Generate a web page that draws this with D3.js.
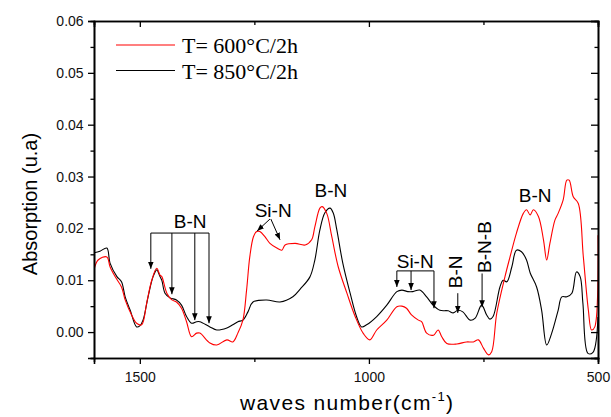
<!DOCTYPE html>
<html>
<head>
<meta charset="utf-8">
<script src="https://cdnjs.cloudflare.com/ajax/libs/d3/7.8.5/d3.min.js"></script>
<style>
    body { margin: 0; background: #fff; }
    svg { display: block; }
    .tick text { font-family: Arial, "Liberation Sans", sans-serif; }
    .ann { font-family: Arial, "Liberation Sans", sans-serif; font-size: 19px; }
</style>
</head>
<body>
<svg width="611" height="417"></svg>
<script>
// wavenumber (cm-1) and absorbance
var wave600 = [1600, 1591, 1572, 1565, 1554, 1540, 1532, 1518, 1507, 1496, 1485, 1474, 1463, 1456, 1452, 1441,
    1430, 1420, 1409, 1398, 1387, 1376, 1369, 1347, 1332, 1310, 1297, 1286, 1275, 1267, 1260, 1252, 1245, 1238,
    1227, 1216, 1201, 1190, 1183, 1161, 1139, 1125, 1118, 1107, 1102, 1092, 1081, 1067, 1048, 1030, 1012, 998,
    983, 961, 939, 928, 918, 907, 892, 885, 874, 859, 849, 841, 830, 808, 787, 772, 761, 750, 739, 732, 721, 703,
    692, 678, 663, 656, 648, 641, 630, 619, 612, 605, 594, 587, 576, 568, 563, 554, 543, 532, 521, 514, 507, 500];
var abs600 = [0.0120, 0.0139, 0.0145, 0.0126, 0.0107, 0.0087, 0.0062, 0.0033, 0.0017, 0.0014, 0.0056, 0.0100,
    0.0123, 0.0110, 0.0107, 0.0075, 0.0062, 0.0058, 0.0046, 0.0020, -0.0009, -0.0002, -0.0002, -0.0021, -0.0025,
    -0.0015, -0.0019, -0.0002, 0.0023, 0.0081, 0.0145, 0.0184, 0.0194, 0.0194, 0.0184, 0.0171, 0.0162, 0.0158,
    0.0168, 0.0171, 0.0168, 0.0178, 0.0203, 0.0239, 0.0242, 0.0229, 0.0184, 0.0126, 0.0075, 0.0030, -0.0003,
    -0.0015, 0.0004, 0.0023, 0.0049, 0.0050, 0.0046, 0.0033, 0.0023, 0.0020, -0.0002, -0.0006, 0.0004, -0.0009,
    -0.0022, -0.0023, -0.0019, -0.0019, -0.0015, -0.0031, -0.0044, -0.0038, 0.0036, 0.0107, 0.0145, 0.0191,
    0.0229, 0.0236, 0.0226, 0.0236, 0.0223, 0.0178, 0.0139, 0.0171, 0.0216, 0.0229, 0.0255, 0.0293, 0.0293,
    0.0261, 0.0248, 0.0145, 0.0042, 0.0004, 0.0010, 0.0187];

var wave850 = [1600, 1587, 1572, 1565, 1550, 1540, 1532, 1521, 1507, 1500, 1493, 1482, 1471, 1463, 1456, 1452,
    1445, 1434, 1420, 1409, 1398, 1387, 1376, 1369, 1347, 1332, 1310, 1297, 1286, 1275, 1264, 1253, 1223, 1194,
    1166, 1150, 1129, 1118, 1107, 1096, 1085, 1078, 1070, 1057, 1041, 1027, 1016, 1005, 983, 961, 939, 928, 915,
    904, 889, 874, 860, 845, 827, 816, 806, 795, 779, 768, 754, 743, 736, 729, 714, 707, 699, 688, 678, 667, 656,
    648, 634, 623, 612, 601, 587, 579, 568, 557, 547, 539, 533, 522, 511, 500];
var abs850 = [0.0153, 0.0156, 0.0162, 0.0133, 0.0107, 0.0097, 0.0068, 0.0042, 0.0010, 0.0012, 0.0023, 0.0068,
    0.0107, 0.0120, 0.0107, 0.0100, 0.0075, 0.0066, 0.0062, 0.0052, 0.0030, 0.0017, 0.0020, 0.0020, 0.0010,
    0.0004, 0.0008, 0.0014, 0.0020, 0.0023, 0.0039, 0.0058, 0.0062, 0.0058, 0.0068, 0.0083, 0.0106, 0.0139,
    0.0197, 0.0230, 0.0239, 0.0230, 0.0197, 0.0133, 0.0075, 0.0030, 0.0010, 0.0014, 0.0030, 0.0052, 0.0078,
    0.0081, 0.0078, 0.0078, 0.0081, 0.0068, 0.0052, 0.0042, 0.0041, 0.0037, 0.0042, 0.0039, 0.0023, 0.0027,
    0.0052, 0.0033, 0.0025, 0.0030, 0.0087, 0.0100, 0.0097, 0.0126, 0.0158, 0.0155, 0.0139, 0.0114, 0.0087,
    0.0042, -0.0025, -0.0002, 0.0042, 0.0068, 0.0068, 0.0075, 0.0116, 0.0107, 0.0056, -0.0041, -0.0039, 0.0029];

var seriesNames = ["T= 600\u00B0C/2h", "T= 850\u00B0C/2h"];
var xTicks = [1500, 1000, 500];
var xMinor = [1250, 750];
var yTicks = [0.00, 0.01, 0.02, 0.03, 0.04, 0.05, 0.06];
var yMinor = [-0.005, 0.005, 0.015, 0.025, 0.035, 0.045, 0.055];

var svg = d3.select("svg"),
    margin = {top: 21, right: 13, bottom: 59, left: 94},
    width = +svg.attr("width") - margin.left - margin.right,
    height = +svg.attr("height") - margin.top - margin.bottom;

var x = d3.scaleLinear().domain([1600, 500]).range([0, width]),
    y = d3.scaleLinear().domain([-0.005, 0.06]).range([height, 0]);

var g = svg.append("g")
    .attr("transform", "translate(" + margin.left + "," + margin.top + ")");

g.append("clipPath").attr("id", "clip")
    .append("rect").attr("width", width).attr("height", height);

var lineGen = d3.line()
    .x(function (d) { return x(d[0]); })
    .y(function (d) { return y(d[1]); })
    .curve(d3.curveCatmullRom.alpha(0.5));

var series = [
    {name: seriesNames[0], color: "#ff0000", pts: d3.zip(wave600, abs600)},
    {name: seriesNames[1], color: "#000000", pts: d3.zip(wave850, abs850)}
];

// draw black first so red sits on top like the picture
g.selectAll(".spec")
    .data(series.slice().reverse())
    .enter().append("path")
    .attr("class", "spec")
    .attr("clip-path", "url(#clip)")
    .attr("fill", "none")
    .attr("stroke", function (d) { return d.color; })
    .attr("stroke-width", 1.1)
    .attr("d", function (d) { return lineGen(d.pts); });

// axes
function fmtY(d) { return d3.format(".2f")(d); }

var gx = g.append("g")
    .attr("transform", "translate(0," + height + ")")
    .call(d3.axisBottom(x).tickValues(xTicks).tickSize(6).tickFormat(d3.format("d")));
gx.append("g").call(d3.axisBottom(x).tickValues(xMinor).tickSize(4).tickFormat(""));

var gy = g.append("g")
    .call(d3.axisLeft(y).tickValues(yTicks).tickSize(6).tickFormat(fmtY));
gy.append("g").call(d3.axisLeft(y).tickValues(yMinor).tickSize(3.5).tickFormat(""));

var gt = g.append("g")
    .call(d3.axisTop(x).tickValues(xTicks).tickSize(-6).tickFormat(""));
gt.append("g").call(d3.axisTop(x).tickValues(xMinor).tickSize(-4).tickFormat(""));

var gr = g.append("g")
    .attr("transform", "translate(" + width + ",0)")
    .call(d3.axisRight(y).tickValues(yTicks).tickSize(-7).tickFormat(""));
gr.append("g").call(d3.axisRight(y).tickValues(yMinor).tickSize(-3.5).tickFormat(""));

g.selectAll(".domain").attr("stroke", "#000").attr("stroke-width", 1.6);
g.selectAll(".tick line").attr("stroke", "#000").attr("stroke-width", 1.3);
g.selectAll(".tick text").attr("font-size", 14).attr("fill", "#111");
gx.selectAll(".tick text").attr("dy", "1.05em");
gy.selectAll(".tick text").attr("dx", "-0.1em");

// axis labels
svg.append("text")
    .attr("transform", "translate(37," + 204 + ") rotate(-90)")
    .attr("text-anchor", "middle")
    .attr("font-family", "Arial, 'Liberation Sans', sans-serif")
    .attr("font-size", 20)
    .text("Absorption (u.a)");

var xl = svg.append("text")
    .attr("x", 240)
    .attr("y", 410)
    .attr("font-family", "Arial, 'Liberation Sans', sans-serif")
    .attr("font-size", 21)
    .attr("textLength", 213)
    .attr("lengthAdjust", "spacing");
xl.append("tspan").text("waves number(cm");
xl.append("tspan").attr("font-size", 13).attr("dy", -9).text("-1");
xl.append("tspan").attr("dy", 9).text(")");

// legend
var legend = g.selectAll(".leg")
    .data(series)
    .enter().append("g")
    .attr("class", "leg")
    .attr("transform", function (d, i) { return "translate(22," + (24 + i * 25.5) + ")"; });
legend.append("line")
    .attr("x1", 0).attr("x2", 59)
    .attr("stroke", function (d) { return d.color; })
    .attr("stroke-width", 1.1);
legend.append("text")
    .attr("x", 66).attr("y", 8)
    .attr("font-family", "'Liberation Serif', 'Times New Roman', serif")
    .attr("font-size", 22)
    .text(function (d) { return d.name; });

// annotations (wavenumber, absorbance)
var defs = svg.append("defs");
defs.append("marker")
    .attr("id", "arr")
    .attr("viewBox", "0 0 10 10")
    .attr("refX", 10).attr("refY", 5)
    .attr("markerWidth", 7).attr("markerHeight", 7)
    .attr("orient", "auto")
    .append("path").attr("d", "M0,1 L10,5 L0,9 Z").attr("fill", "#000");

function arrow(x1, y1, x2, y2) {
    g.append("line")
        .attr("x1", x(x1)).attr("y1", y(y1))
        .attr("x2", x(x2)).attr("y2", y(y2))
        .attr("stroke", "#000").attr("stroke-width", 1)
        .attr("marker-end", "url(#arr)");
}
function bracket(xs, yTop, tips) {
    g.append("line")
        .attr("x1", x(xs[0])).attr("x2", x(xs[xs.length - 1]))
        .attr("y1", y(yTop)).attr("y2", y(yTop))
        .attr("stroke", "#000").attr("stroke-width", 1);
    xs.forEach(function (w, i) { arrow(w, yTop, w, tips[i]); });
}
function label(txt, w, v, rot) {
    var t = g.append("text").attr("class", "ann").attr("text-anchor", "middle").text(txt);
    if (rot) t.attr("transform", "translate(" + x(w) + "," + y(v) + ") rotate(-90)").attr("dy", "0.35em");
    else t.attr("x", x(w)).attr("y", y(v));
}

var bnLeftX = [1476, 1430, 1380, 1349];
var bnLeftTip = [0.0122, 0.0073, 0.0023, 0.0017];
bracket(bnLeftX, 0.0191, bnLeftTip);
label("B-N", 1390, 0.0200);

label("Si-N", 1209, 0.0222);
arrow(1216, 0.0218, 1244, 0.0195);
arrow(1214, 0.0218, 1194, 0.0178);

label("B-N", 1083, 0.0261);
label("B-N", 637, 0.0251);

var siNX = [939, 908, 858];
var siNTip = [0.0087, 0.0081, 0.0046];
bracket(siNX, 0.0118, siNTip);
label("Si-N", 899, 0.0124);

label("B-N", 812, 0.0116, true);
arrow(806, 0.0075, 806, 0.0037);
label("B-N-B", 749, 0.0164, true);
arrow(753, 0.0113, 753, 0.0048);
</script>
</body>
</html>
